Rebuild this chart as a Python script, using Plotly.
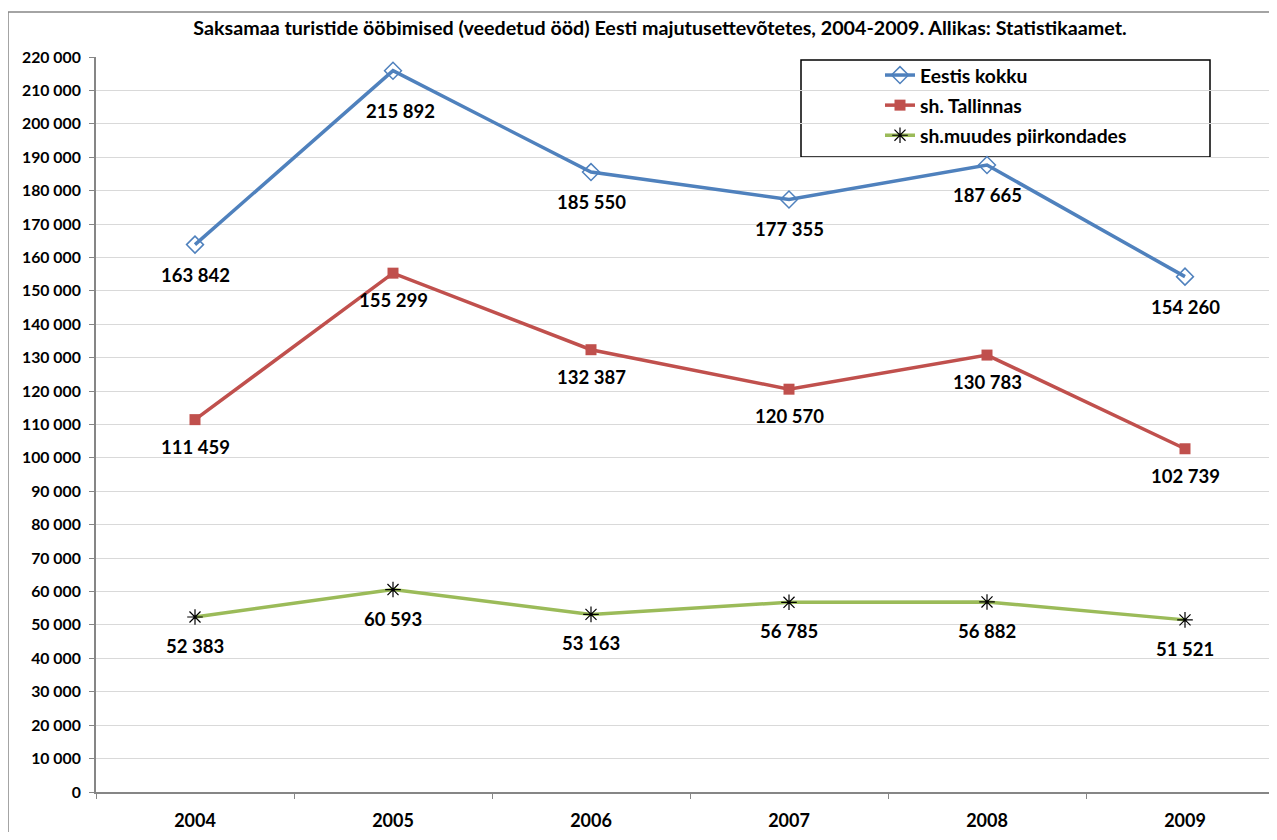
import plotly.graph_objects as go

# data
years = ["2004", "2005", "2006", "2007", "2008", "2009"]
eestis_kokku = [163842, 215892, 185550, 177355, 187665, 154260]
tallinnas = [111459, 155299, 132387, 120570, 130783, 102739]
muudes = [52383, 60593, 53163, 56785, 56882, 51521]

# the page body has an 8px margin, so the figure is sized to fit the window
OFF = 8
W, H = 1277 - 2 * OFF, 840 - 2 * OFF
L, R, T, B = 96 - OFF, 0, 57 - OFF, 840 - 792 - OFF
PW = W - L - R
PH = H - T - B
STEP = 198.0  # px per category in the reference


def px_x(x):
    # page x pixel -> paper coordinate
    return (x - OFF - L) / PW


def px_y(y):
    # page y pixel -> paper coordinate
    return 1 - (y - OFF - T) / PH


FONT = "Lato"

fig = go.Figure()

# name, values, line colour, marker, label offset below point
series = [
    ("Eestis kokku", eestis_kokku, "#4F81BD",
     dict(symbol="diamond-open", size=13, color="#4F81BD", line=dict(width=1.5, color="#4F81BD")), -30),
    ("sh. Tallinnas", tallinnas, "#C0504D",
     dict(symbol="square", size=11, color="#C0504D", line=dict(width=0)), -27),
    ("sh.muudes piirkondades", muudes, "#9BBB59",
     dict(symbol="asterisk-open", size=13, color="black", line=dict(width=1.2, color="black")), -29),
]
# label nudged by hand in the original (Eestis kokku, 2005)
nudged = {("Eestis kokku", 1): (7, -40)}

for name, vals, col, mk, dy in series:
    fig.add_trace(go.Scatter(
        x=years, y=vals, name=name, legendgroup=name, mode="lines+markers",
        line=dict(color=col, width=3.5), marker=mk,
        cliponaxis=False,
    ))
    # data labels below points (category axis -> use index positions)
    for i, v in enumerate(vals):
        xs, ys = nudged.get((name, i), (0, dy))
        fig.add_annotation(
            x=i, y=v, text=f"{v:,}".replace(",", " "),
            showarrow=False, xshift=xs, yshift=ys,
            font=dict(family=FONT, size=18.5, color="black", weight="bold"),
        )

fig.update_layout(
    width=W, height=H,
    margin=dict(l=L, r=R, t=T, b=B, pad=0, autoexpand=False),
    paper_bgcolor="white", plot_bgcolor="white",
    separators=", ",
    showlegend=True,
    title=dict(
        text="<b>Saksamaa turistide ööbimised (veedetud ööd) Eesti majutusettevõtetes, 2004-2009. Allikas: Statistikaamet.</b>",
        x=px_x(660), xref="paper", xanchor="center",
        y=1 - (28 - OFF) / H, yref="container", yanchor="middle",
        font=dict(family=FONT, size=19.7, color="black"),
    ),
    legend=dict(
        x=px_x(880), y=px_y(56), xanchor="left", yanchor="top",
        bgcolor="rgba(0,0,0,0)", borderwidth=0,
        font=dict(family=FONT, size=19.3, color="black", weight="bold"),
        tracegroupgap=2, itemwidth=30,
    ),
    xaxis=dict(
        type="category", range=[-0.5, -0.5 + PW / STEP],
        showgrid=False, showline=True, linecolor="#868686", linewidth=2,
        ticks="outside", tickson="boundaries", ticklen=5, tickcolor="#868686",
        ticklabelstandoff=11, automargin=False,
        tickfont=dict(family=FONT, size=18, color="black", weight="bold"),
        fixedrange=True,
    ),
    yaxis=dict(
        range=[0, 220000], dtick=10000, tickformat=",d",
        showgrid=True, gridcolor="#D9D9D9", gridwidth=1,
        showline=True, linecolor="#868686", linewidth=2,
        ticks="outside", ticklen=5, tickcolor="#868686",
        ticklabelstandoff=5, automargin=False,
        tickfont=dict(family=FONT, size=15.8, color="black", weight="bold"),
        zeroline=False, fixedrange=True,
    ),
    shapes=[
        # outer chart border
        dict(type="rect", xref="paper", yref="paper",
             x0=px_x(8), x1=px_x(1290),
             y0=px_y(850), y1=px_y(12),
             line=dict(color="#868686", width=1.5), layer="below"),
        # legend box
        dict(type="rect", xref="paper", yref="paper",
             x0=px_x(801), x1=px_x(1210),
             y0=px_y(157), y1=px_y(60),
             line=dict(color="black", width=1.5), fillcolor="white", layer="below"),
    ],
)

fig.write_html("out.html")
